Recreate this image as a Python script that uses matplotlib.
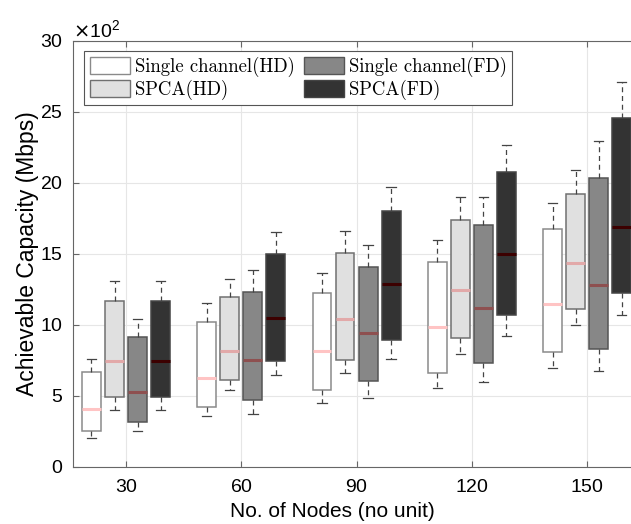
import numpy as np
import matplotlib
matplotlib.use('Agg')
import matplotlib.pyplot as plt
import matplotlib.patches as mpatches
from matplotlib.ticker import ScalarFormatter

plt.rcParams['font.family'] = ['Liberation Sans', 'DejaVu Sans']
plt.rcParams['axes.formatter.use_mathtext'] = True

# data: rows = node counts, columns = (lower whisker, q1, median, q3, upper whisker), Mbps
nodes = [30, 60, 90, 120, 150]
sc_hd = [[204, 256, 410, 671, 760],
         [359, 425, 627, 1023, 1155],
         [448, 542, 815, 1223, 1364],
         [554, 660, 984, 1444, 1596],
         [695, 807, 1145, 1678, 1861]]
spca_hd = [[400, 490, 749, 1170, 1310],
           [542, 610, 819, 1200, 1326],
           [660, 756, 1045, 1509, 1664],
           [794, 906, 1246, 1737, 1904],
           [1000, 1110, 1437, 1923, 2089]]
sc_fd = [[250, 319, 526, 918, 1045],
         [375, 470, 754, 1230, 1388],
         [488, 603, 946, 1410, 1566],
         [600, 730, 1117, 1707, 1904],
         [678, 829, 1282, 2037, 2294]]
spca_fd = [[400, 490, 749, 1170, 1310],
           [646, 744, 1047, 1502, 1657],
           [763, 894, 1289, 1803, 1974],
           [925, 1068, 1498, 2075, 2268],
           [1070, 1225, 1692, 2458, 2710]]
labels = ['Single channel(HD)', 'SPCA(HD)', 'Single channel(FD)', 'SPCA(FD)']

series = [sc_hd, spca_hd, sc_fd, spca_fd]
faces = ['#ffffff', '#e0e0e0', '#878787', '#333333']
medians = ['#ffc4c4', '#e2a9a9', '#8e5050', '#3c0000']
edges = ['#8a8a8a', '#707070', '#555555', '#444444']
offsets = [-9, -3, 3, 9]
width = 4.9

fig = plt.figure(figsize=(6.31, 5.24), dpi=100)
# axes run a little past the right edge of the figure, as in the original
ax = fig.add_axes([0.1157, 0.1088, 0.9043, 0.8130])
ax.grid(True, color='#e6e6e6', linewidth=0.8)
ax.set_axisbelow(True)

for data, fc, mc, ec, off in zip(series, faces, medians, edges, offsets):
    stats = [dict(whislo=r[0], q1=r[1], med=r[2], q3=r[3], whishi=r[4], fliers=[])
             for r in data]
    ax.bxp(stats, positions=np.array(nodes) + off, widths=width,
           patch_artist=True, showfliers=False, manage_ticks=False,
           boxprops=dict(facecolor=fc, edgecolor=ec, linewidth=1.1),
           medianprops=dict(color=mc, linewidth=2.2),
           whiskerprops=dict(color='#444444', linestyle=(0, (4, 3)), linewidth=0.9),
           capprops=dict(color='#444444', linewidth=0.9))

ax.set_xlim(16.2, 164.7)
ax.set_ylim(0, 3000)
ax.set_xticks(nodes)
ax.set_yticks(np.arange(0, 3001, 500))
fmt = ScalarFormatter(useMathText=True)
fmt.set_powerlimits((2, 2))
ax.yaxis.set_major_formatter(fmt)
ax.yaxis.get_offset_text().set_fontsize(14)
ax.tick_params(direction='in', labelsize=14, color='#666666', length=4, top=True)
ax.tick_params(axis='x', pad=9)
ax.tick_params(axis='y', pad=7)
for s in ax.spines.values():
    s.set_color('#666666')

ax.set_xlabel('No. of Nodes (no unit)', fontsize=15, labelpad=4, x=0.455)
ax.set_ylabel('Achievable Capacity (Mbps)', fontsize=16.5, labelpad=1)

handles = [mpatches.Patch(facecolor=fc, edgecolor=ec, label=lab)
           for fc, ec, lab in zip(faces, edges, labels)]
leg = ax.legend(handles=handles, ncol=2, loc='upper left', bbox_to_anchor=(0.133, 0.9027),
                bbox_transform=fig.transFigure,
                prop={'family': 'cmr10', 'size': 13.5}, fancybox=False, framealpha=1,
                edgecolor='#555555', handlelength=2.15, handleheight=1.0,
                handletextpad=0.25, columnspacing=0.5, borderpad=0.3, labelspacing=0.15,
                borderaxespad=0)
leg.get_frame().set_linewidth(0.8)

fig.savefig('out.png', dpi=100)
